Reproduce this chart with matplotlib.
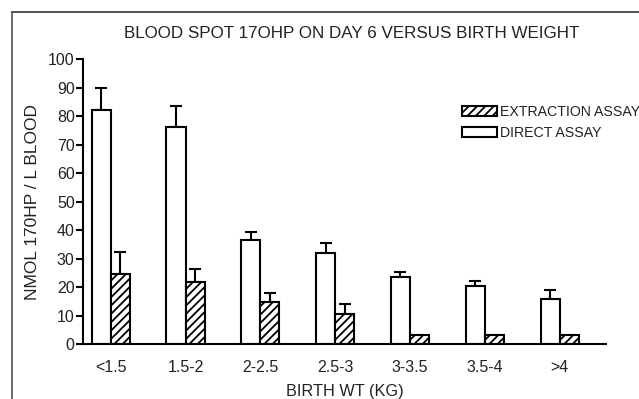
import matplotlib
matplotlib.use("Agg")
import matplotlib.pyplot as plt
from matplotlib.patches import Patch
from matplotlib.lines import Line2D
import numpy as np

categories = ["<1.5", "1.5-2", "2-2.5", "2.5-3", "3-3.5", "3.5-4", ">4"]
direct = [82, 76, 36.5, 32, 23.5, 20.5, 16]
direct_err = [8, 7.7, 3, 3.5, 2, 1.8, 3]
extraction = [24.5, 22, 15, 10.5, 3.4, 3.4, 3.3]
extraction_err = [8, 4.3, 3, 3.5, 0, 0, 0]

plt.rcParams['font.family'] = ['Liberation Sans', 'DejaVu Sans']
plt.rcParams['hatch.linewidth'] = 1.3
TXT = '#222222'

fig = plt.figure(figsize=(6.39, 3.99), dpi=100)
ax = fig.add_axes([83/639, 1-344.3/399, (606-83)/639, (344.3-59)/399])

x = np.arange(len(categories))
w = 0.255
ax.bar(x - w/2, direct, w, color='white', edgecolor='black', linewidth=1.5, zorder=2)
ax.bar(x + w/2, extraction, w, color='white', edgecolor='black', linewidth=1.5,
       hatch='////', zorder=2)
ax.errorbar(x - w/2, direct, yerr=[np.zeros(len(direct)), direct_err], fmt='none',
            ecolor='black', elinewidth=1.5, capsize=4, capthick=1.5, zorder=1)
ext_err = np.array(extraction_err, dtype=float)
mask = ext_err > 0
ax.errorbar((x + w/2)[mask], np.array(extraction)[mask],
            yerr=[np.zeros(mask.sum()), ext_err[mask]], fmt='none',
            ecolor='black', elinewidth=1.5, capsize=4, capthick=1.5, zorder=1)

ax.set_xlim(-0.37, 6.62)
ax.set_ylim(0, 100)
ax.set_yticks(range(0, 101, 10))
ax.set_xticks(x)
ax.set_xticklabels(categories)
ax.tick_params(axis='x', length=0, pad=11, labelsize=11.5, labelcolor=TXT)
ax.tick_params(axis='y', length=5, width=1.5, pad=1, labelsize=11.5, labelcolor=TXT)
for s in ['top', 'right']:
    ax.spines[s].set_visible(False)
for s in ['left', 'bottom']:
    ax.spines[s].set_linewidth(1.5)

ax.set_xlabel("BIRTH WT (KG)", fontsize=11.7, labelpad=7, color=TXT)
ax.set_ylabel("NMOL 170HP / L BLOOD", fontsize=12.5, labelpad=6, color=TXT)

fig.text(352/639, 1-33/399, "BLOOD SPOT 17OHP ON DAY 6 VERSUS BIRTH WEIGHT",
         ha='center', va='center', fontsize=12.25, color=TXT)

handles = [Patch(facecolor='white', edgecolor='black', hatch='////', linewidth=1.5),
           Patch(facecolor='white', edgecolor='black', linewidth=1.5)]
fig.legend(handles, ["EXTRACTION ASSAY", "DIRECT ASSAY"], loc='upper left',
           bbox_to_anchor=(462/639, 1-105/399), frameon=False, fontsize=10.2,
           handlelength=2.5, handleheight=0.75, handletextpad=0.15,
           labelspacing=0.5, borderpad=0, borderaxespad=0, labelcolor=TXT)

# frame lines (top and left)
fig.add_artist(Line2D([12/639, 1], [1-12/399, 1-12/399], color='#333333', lw=1.2,
                      transform=fig.transFigure))
fig.add_artist(Line2D([12/639, 12/639], [0, 1-12/399], color='#555555', lw=1.2,
                      transform=fig.transFigure))

fig.savefig("out.png", dpi=100)
